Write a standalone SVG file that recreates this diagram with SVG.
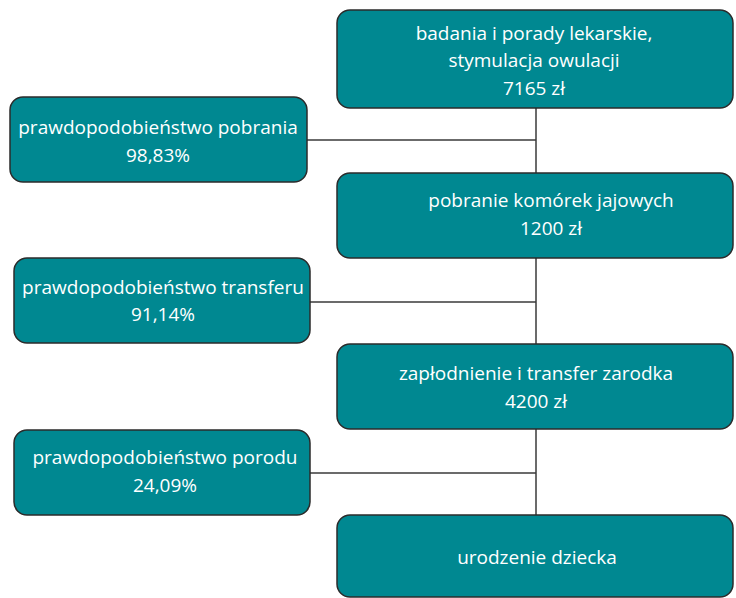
<svg xmlns="http://www.w3.org/2000/svg" width="736" height="598" viewBox="0 0 736 598">
<style>
.box{fill:#008891;stroke:#2b2b2b;stroke-width:1.5}
.t{font-family:"Open Sans","Liberation Sans",sans-serif;font-size:19px;fill:#ffffff;text-anchor:middle}
.c{stroke:#3a3a3a;stroke-width:1.5;fill:none}
</style>
<rect width="736" height="598" fill="#ffffff"/>
<g id="connectors">
<line class="c" x1="536" y1="108" x2="536" y2="173"/>
<line class="c" x1="307" y1="140" x2="536" y2="140"/>
<line class="c" x1="536" y1="258" x2="536" y2="344"/>
<line class="c" x1="310" y1="302" x2="536" y2="302"/>
<line class="c" x1="536" y1="429" x2="536" y2="515"/>
<line class="c" x1="310" y1="473" x2="536" y2="473"/>
</g>
<g id="n1">
<rect class="box" x="337" y="10" width="396" height="98" rx="13"/>
<text class="t" x="534" y="40">badania i porady lekarskie,</text>
<text class="t" x="534" y="67">stymulacja owulacji</text>
<text class="t" x="534" y="95">7165 zł</text>
</g>
<g id="p1">
<rect class="box" x="10" y="97" width="297" height="85" rx="13"/>
<text class="t" x="158" y="134">prawdopodobieństwo pobrania</text>
<text class="t" x="158" y="162">98,83%</text>
</g>
<g id="n2">
<rect class="box" x="337" y="173" width="396" height="85" rx="13"/>
<text class="t" x="551" y="207">pobranie komórek jajowych</text>
<text class="t" x="551" y="235">1200 zł</text>
</g>
<g id="p2">
<rect class="box" x="14" y="258" width="296" height="85" rx="13"/>
<text class="t" x="163" y="294">prawdopodobieństwo transferu</text>
<text class="t" x="163" y="321">91,14%</text>
</g>
<g id="n3">
<rect class="box" x="337" y="344" width="396" height="85" rx="13"/>
<text class="t" x="536" y="380">zapłodnienie i transfer zarodka</text>
<text class="t" x="536" y="408">4200 zł</text>
</g>
<g id="p3">
<rect class="box" x="14" y="430" width="296" height="85" rx="13"/>
<text class="t" x="165" y="464">prawdopodobieństwo porodu</text>
<text class="t" x="165" y="492">24,09%</text>
</g>
<g id="n4">
<rect class="box" x="337" y="515" width="396" height="82" rx="13"/>
<text class="t" x="537" y="564">urodzenie dziecka</text>
</g>
</svg>
